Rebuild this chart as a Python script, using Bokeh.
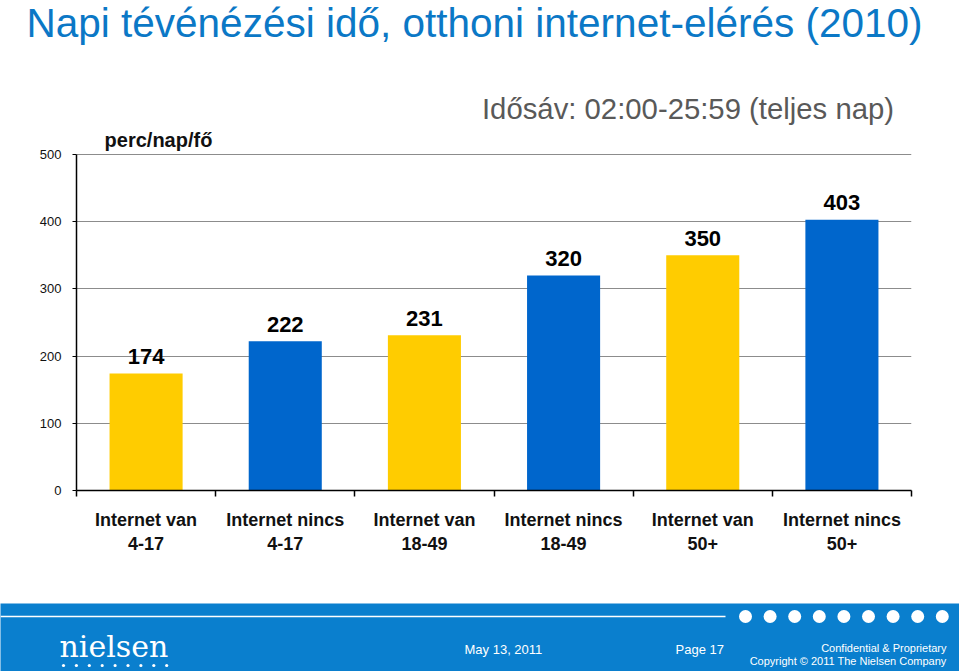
from bokeh.plotting import figure
from bokeh.models import Range1d, FixedTicker
from bokeh.layouts import column
from bokeh.core.properties import value
from bokeh.embed import file_html
from bokeh.resources import INLINE

# ---- data ----
title_text = "Napi tévénézési idő, otthoni internet-elérés (2010)"
unit_text = "perc/nap/fő"
slot_text = "Idősáv: 02:00-25:59 (teljes nap)"
categories = ["Internet van\n4-17", "Internet nincs\n4-17", "Internet van\n18-49",
              "Internet nincs\n18-49", "Internet van\n50+", "Internet nincs\n50+"]
values = [174, 222, 231, 320, 350, 403]
bar_colors = ["#FFCC00", "#0066CC", "#FFCC00", "#0066CC", "#FFCC00", "#0066CC"]
y_ticks = [0, 100, 200, 300, 400, 500]
footer_date = "May 13, 2011"
footer_page = "Page 17"
footer_conf = "Confidential & Proprietary"
footer_copy = "Copyright © 2011 The Nielsen Company"
logo_text = "nielsen"

FONT = "Liberation Sans"
W = 959
FOOT_BLUE = "#0A7FCE"

# ---- header ----
head = figure(width=W, height=60, output_backend="svg", toolbar_location=None,
              x_range=Range1d(0, W), y_range=Range1d(0, 60),
              x_axis_location=None, y_axis_location=None, min_border=0)
head.frame_align = False
head.outline_line_color = None
head.grid.visible = False
head.text(x=[26], y=[38], text=[title_text], text_font=value(FONT),
          text_font_size="40.5px", text_color="#0B78C6", text_baseline="middle")

# ---- main chart ----
n = len(categories)
xs = [i + 0.5 for i in range(n)]
p = figure(width=W, height=543, output_backend="svg", toolbar_location=None,
           x_range=Range1d(0, n), y_range=Range1d(0, 640),
           min_border_left=76, min_border_right=48, min_border_top=0, min_border_bottom=113)
p.frame_align = False
p.outline_line_color = None
p.xgrid.visible = False
p.ygrid.grid_line_color = "#8C8C8C"
p.ygrid.grid_line_width = 1

p.vbar(x=xs, top=values, bottom=0, width=0.525, color=bar_colors, line_color=None)
p.text(x=xs, y=values, text=[str(v) for v in values], text_font=value(FONT),
       text_font_style="bold", text_font_size="22px", text_align="center",
       text_baseline="middle", y_offset=-17, text_color="black")

p.text(x=[0.589], y=[521], text=[unit_text], text_font=value(FONT), text_font_style="bold",
       text_font_size="20px", text_align="center", text_baseline="middle", text_color="#111111")
p.text(x=[4.394], y=[568], text=[slot_text], text_font=value(FONT),
       text_font_size="29.3px", text_align="center", text_baseline="middle", text_color="#595959")

# y axis
p.yaxis.ticker = FixedTicker(ticks=y_ticks, minor_ticks=[])
p.yaxis.bounds = (0, 500)
p.yaxis.axis_line_color = "black"
p.yaxis.axis_line_width = 1.5
p.yaxis.major_tick_in = 0
p.yaxis.major_tick_out = 4
p.yaxis.major_tick_line_color = "black"
p.yaxis.major_label_standoff = 11
p.yaxis.major_label_text_font = FONT
p.yaxis.major_label_text_font_size = "13px"
p.yaxis.major_label_text_color = "#111111"

# x axis
p.xaxis.ticker = FixedTicker(ticks=xs, minor_ticks=list(range(n + 1)))
p.xaxis.major_label_overrides = {x: c for x, c in zip(xs, categories)}
p.xaxis.major_tick_in = 0
p.xaxis.major_tick_out = 0
p.xaxis.minor_tick_in = 0
p.xaxis.minor_tick_out = 6
p.xaxis.minor_tick_line_color = "black"
p.xaxis.minor_tick_line_width = 1.5
p.xaxis.axis_line_color = "black"
p.xaxis.axis_line_width = 1.5
p.xaxis.major_label_standoff = 13
p.xaxis.major_label_text_font = FONT
p.xaxis.major_label_text_font_style = "bold"
p.xaxis.major_label_text_font_size = "18px"
p.xaxis.major_label_text_color = "#111111"

# ---- footer ----
foot = figure(width=W, height=68, output_backend="svg", toolbar_location=None,
              x_range=Range1d(0, W), y_range=Range1d(0, 68),
              x_axis_location=None, y_axis_location=None, min_border=0)
foot.frame_align = False
foot.outline_line_color = None
foot.grid.visible = False
foot.background_fill_color = FOOT_BLUE
foot.border_fill_color = FOOT_BLUE
foot.segment(x0=[0], y0=[55], x1=[725], y1=[55], line_color="white", line_width=1.5)
big_dx = [745 + 24.6 * i for i in range(9)]
foot.scatter(x=big_dx, y=[55] * 9, size=13, color="white", line_color=None)
small_dx = [63 + 12.9 * i for i in range(9)]
foot.scatter(x=small_dx, y=[6] * 9, size=3.2, color="white", line_color=None)
foot.text(x=[59], y=[25], text=[logo_text], text_font=value("DejaVu Serif"),
          text_font_size="30px", text_color="white", text_baseline="middle")
foot.text(x=[464], y=[22], text=[footer_date], text_font=value(FONT), text_font_size="13px",
          text_color="white", text_baseline="middle")
foot.text(x=[675], y=[22], text=[footer_page], text_font=value(FONT), text_font_size="13px",
          text_color="white", text_baseline="middle")
foot.text(x=[946, 946], y=[24, 11], text=[footer_conf, footer_copy], text_font=value(FONT),
          text_font_size="11px", text_color="white", text_baseline="middle", text_align="right")

layout = column(head, p, foot, spacing=0)
open("out.html", "w").write(file_html(layout, INLINE))
